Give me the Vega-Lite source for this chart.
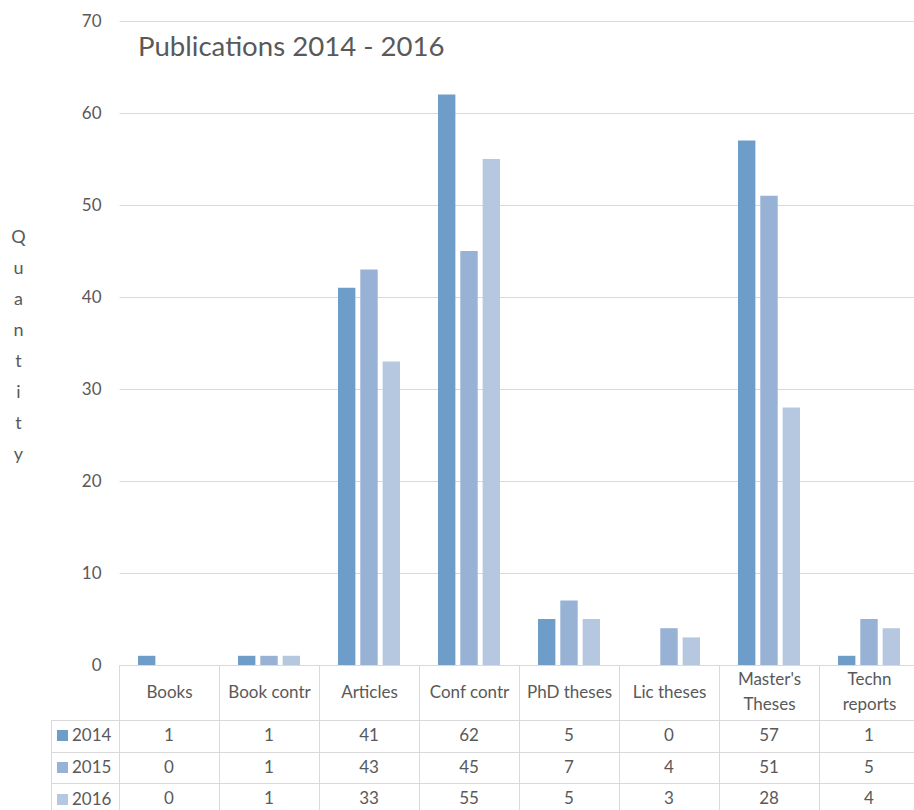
{
  "$schema": "https://vega.github.io/schema/vega-lite/v6.json",
  "padding": {"left": 10, "top": 12, "right": 0, "bottom": 0},
  "config": {"font": "Lato", "view": {"stroke": null}},
  "bounds": "flush",
  "spacing": 55,
  "datasets": {
    "pubs": [
      {"category": "Books", "year": "2014", "count": 1},
      {"category": "Books", "year": "2015", "count": 0},
      {"category": "Books", "year": "2016", "count": 0},
      {"category": "Book contr", "year": "2014", "count": 1},
      {"category": "Book contr", "year": "2015", "count": 1},
      {"category": "Book contr", "year": "2016", "count": 1},
      {"category": "Articles", "year": "2014", "count": 41},
      {"category": "Articles", "year": "2015", "count": 43},
      {"category": "Articles", "year": "2016", "count": 33},
      {"category": "Conf contr", "year": "2014", "count": 62},
      {"category": "Conf contr", "year": "2015", "count": 45},
      {"category": "Conf contr", "year": "2016", "count": 55},
      {"category": "PhD theses", "year": "2014", "count": 5},
      {"category": "PhD theses", "year": "2015", "count": 7},
      {"category": "PhD theses", "year": "2016", "count": 5},
      {"category": "Lic theses", "year": "2014", "count": 0},
      {"category": "Lic theses", "year": "2015", "count": 4},
      {"category": "Lic theses", "year": "2016", "count": 3},
      {"category": "Master's Theses", "year": "2014", "count": 57},
      {"category": "Master's Theses", "year": "2015", "count": 51},
      {"category": "Master's Theses", "year": "2016", "count": 28},
      {"category": "Techn reports", "year": "2014", "count": 1},
      {"category": "Techn reports", "year": "2015", "count": 5},
      {"category": "Techn reports", "year": "2016", "count": 4}
    ]
  },
  "resolve": {
    "scale": {"x": "independent", "y": "independent"},
    "legend": {"color": "independent"}
  },
  "vconcat": [
    {
      "width": 800,
      "height": 644,
      "title": {
        "text": "Publications 2014 - 2016",
        "anchor": "start",
        "frame": "group",
        "orient": "top",
        "offset": -34,
        "dx": 19,
        "dy": 38,
        "fontSize": 27.6,
        "fontWeight": "normal",
        "color": "#595959",
        "baseline": "alphabetic"
      },
      "data": {"name": "pubs"},
      "mark": {"type": "bar"},
      "encoding": {
        "x": {
          "field": "category",
          "type": "nominal",
          "sort": ["Books", "Book contr", "Articles", "Conf contr", "PhD theses", "Lic theses", "Master's Theses", "Techn reports"],
          "scale": {"paddingInner": 0, "paddingOuter": 0},
          "axis": {
            "title": null,
            "labelAngle": 0,
            "labelFontSize": 17,
            "labelColor": "#595959",
            "labelBaseline": "middle",
            "labelPadding": {"condition": {"test": "datum.label == \"Master's Theses\" || datum.label == 'Techn reports'", "value": -40.5}, "value": -28},
            "labelLineHeight": 25,
            "labelExpr": "datum.label == \"Master's Theses\" ? [\"Master's\", \"Theses\"] : datum.label == 'Techn reports' ? ['Techn', 'reports'] : datum.label",
            "domain": true,
            "domainColor": "#d9d9d9",
            "ticks": true,
            "tickBand": "extent",
            "tickSize": 55,
            "tickColor": "#d9d9d9",
            "grid": false
          }
        },
        "xOffset": {
          "field": "year",
          "type": "nominal",
          "scale": {"paddingInner": 0.22, "paddingOuter": 0.85}
        },
        "y": {
          "field": "count",
          "type": "quantitative",
          "scale": {"domain": [0, 70], "nice": false},
          "axis": {
            "values": [0, 10, 20, 30, 40, 50, 60, 70],
            "title": ["Q", "u", "a", "n", "t", "i", "t", "y"],
            "titleAngle": 0,
            "titleX": -101,
            "titleY": 216,
            "titleAlign": "center",
            "titleBaseline": "middle",
            "titleLineHeight": 31,
            "titleFontSize": 18,
            "titleFontWeight": "normal",
            "titleColor": "#595959",
            "labelFontSize": 17,
            "labelColor": "#595959",
            "labelPadding": 18,
            "ticks": false,
            "domain": false,
            "grid": true,
            "gridColor": "#d9d9d9"
          }
        },
        "color": {
          "field": "year",
          "type": "nominal",
          "scale": {"domain": ["2014", "2015", "2016"], "range": ["#6f9dc9", "#97b2d4", "#b5c8df"]},
          "legend": null
        }
      }
    },
    {
      "width": 800,
      "height": 95,
      "data": {"name": "pubs"},
      "encoding": {
        "x": {
          "field": "category",
          "type": "nominal",
          "sort": ["Books", "Book contr", "Articles", "Conf contr", "PhD theses", "Lic theses", "Master's Theses", "Techn reports"],
          "scale": {"paddingInner": 0, "paddingOuter": 0},
          "axis": {
            "orient": "top",
            "title": null,
            "labels": false,
            "ticks": false,
            "domain": false,
            "grid": true,
            "tickBand": "extent",
            "gridColor": "#d9d9d9"
          }
        },
        "y": {
          "field": "year",
          "type": "nominal",
          "scale": {"paddingInner": 0, "paddingOuter": 0},
          "axis": {
            "title": null,
            "labels": false,
            "ticks": true,
            "tickSize": 68,
            "tickBand": "extent",
            "tickColor": "#d9d9d9",
            "domain": true,
            "domainColor": "#d9d9d9",
            "grid": true,
            "gridColor": "#d9d9d9"
          }
        }
      },
      "layer": [
        {
          "mark": {"type": "text", "fontSize": 17, "color": "#595959", "baseline": "middle"},
          "encoding": {"text": {"field": "count", "type": "quantitative"}}
        },
        {
          "mark": {"type": "point", "shape": "square", "filled": true, "opacity": 0},
          "encoding": {
            "color": {
              "field": "year",
              "type": "nominal",
              "scale": {"domain": ["2014", "2015", "2016"], "range": ["#6f9dc9", "#97b2d4", "#b5c8df"]},
              "legend": {
                "orient": "none",
                "legendX": -68,
                "legendY": 0,
                "title": null,
                "padding": 7,
                "strokeColor": "#d9d9d9",
                "symbolType": "square",
                "symbolSize": 121,
                "symbolOpacity": 1,
                "symbolStrokeWidth": 0,
                "symbolOffset": -4,
                "labelFontSize": 17,
                "labelColor": "#595959",
                "labelOffset": 1,
                "rowPadding": 14
              }
            }
          }
        }
      ]
    }
  ]
}
